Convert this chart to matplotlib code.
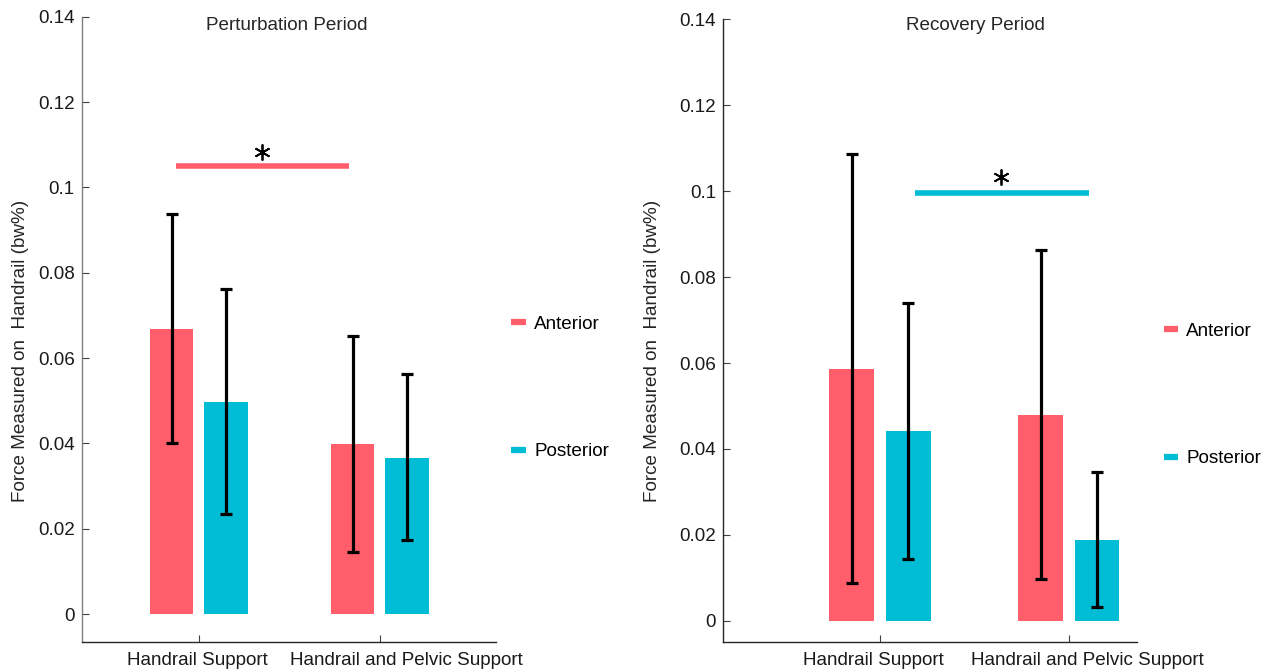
import matplotlib
matplotlib.use("Agg")
import matplotlib.pyplot as plt
import numpy as np
from matplotlib.lines import Line2D
from matplotlib.transforms import blended_transform_factory

plt.rcParams['font.family'] = ['Liberation Sans', 'DejaVu Sans']

groups = ["Handrail Support", "Handrail and Pelvic Support"]
series = ["Anterior", "Posterior"]
colors = ["#FF5E6A", "#00BCD4"]

# Perturbation period
pert_mean = {"Anterior": [0.0668, 0.0398], "Posterior": [0.0496, 0.0367]}
pert_low = {"Anterior": [0.0402, 0.0145], "Posterior": [0.0234, 0.0174]}
pert_high = {"Anterior": [0.0937, 0.0652], "Posterior": [0.0761, 0.0562]}
pert_sig = 0.105

# Recovery period
rec_mean = {"Anterior": [0.0587, 0.0478], "Posterior": [0.0441, 0.0188]}
rec_low = {"Anterior": [0.0089, 0.0098], "Posterior": [0.0144, 0.0032]}
rec_high = {"Anterior": [0.1087, 0.0863], "Posterior": [0.0739, 0.0346]}
rec_sig = 0.0995

yticks = [0, 0.02, 0.04, 0.06, 0.08, 0.1, 0.12, 0.14]
ytick_labels = ["0", "0.02", "0.04", "0.06", "0.08", "0.1", "0.12", "0.14"]

fig = plt.figure(figsize=(12.7, 6.7), dpi=100)

FS = 13.6
TXT = "#1a1a1a"
PX = 0.72  # points per pixel at 100 dpi


def panel(rect, title, title_x, mean, low, high, sig, sig_color, sig_x, star_x,
          star_off, xlim, ylim, off, width, ylab_xy, leg_xy, left_spine_color,
          xlab_shift):
    ax = fig.add_axes(rect)
    x = np.arange(1, len(groups) + 1)
    for i, s in enumerate(series):
        xs = x + (-off if i == 0 else off)
        m = np.array(mean[s])
        ax.bar(xs, m, width=width, color=colors[i], edgecolor='none', zorder=2)
        yerr = np.vstack([m - np.array(low[s]), np.array(high[s]) - m])
        ax.errorbar(xs, m, yerr=yerr, fmt='none', ecolor='black',
                    elinewidth=2.3, capsize=4.3, capthick=2.3, zorder=3)
    ax.plot(sig_x, [sig, sig], color=sig_color, lw=4.0, solid_capstyle='butt', zorder=3)
    ax.plot([star_x], [sig + star_off], marker=(6, 2, 0), markersize=11.5,
            markeredgewidth=1.3, color='black', linestyle='none', zorder=4)
    ax.set_xlim(*xlim)
    ax.set_ylim(*ylim)
    ax.set_xticks(x)
    ax.tick_params(axis='x', labelbottom=False)
    btr = blended_transform_factory(ax.transData, ax.transAxes)
    for xi, lab, dx in zip(x, groups, xlab_shift):
        ax.annotate(lab, xy=(xi, 0), xycoords=btr, xytext=(dx * PX, -7),
                    textcoords='offset points', ha='center', va='top',
                    fontsize=FS, color=TXT, annotation_clip=False)
    ax.set_yticks(yticks)
    ax.set_yticklabels(ytick_labels, fontsize=FS, color=TXT)
    for sp in ['top', 'right']:
        ax.spines[sp].set_visible(False)
    ax.spines['left'].set_color(left_spine_color)
    ax.spines['bottom'].set_color('#262626')
    ax.spines['left'].set_linewidth(1.0)
    ax.spines['bottom'].set_linewidth(1.0)
    ax.spines['left'].set_bounds(ylim[0], 0.14)
    ax.tick_params(axis='both', direction='in', length=5, width=0.8,
                   color='#404040')
    ax.tick_params(axis='y', pad=5)
    ax.set_ylabel("Force Measured on  Handrail (bw%)", fontsize=FS, color='#262626')
    ax.yaxis.set_label_coords(*ylab_xy)
    tr = blended_transform_factory(ax.transAxes, fig.transFigure)
    ax.text(title_x, 1 - 25 / 670, title, transform=tr, ha='center', va='center',
            fontsize=FS, color='#262626')
    handles = [Line2D([0], [0], color=c, lw=4.5, solid_capstyle='butt') for c in colors]
    ax.legend(handles, series, loc='center left', bbox_to_anchor=leg_xy,
              frameon=False, fontsize=FS, handlelength=0.75, handletextpad=0.45,
              labelspacing=5.85, borderaxespad=0, borderpad=0)
    ax.patch.set_alpha(0)
    return ax


panel([0.0643, 0.0413, 0.3263, 0.9338], "Perturbation Period", 0.494,
      pert_mean, pert_low, pert_high, pert_sig, colors[0], [0.871, 1.828], 1.348,
      0.0033, (0.352, 2.643), (-0.0066, 0.14), 0.15, 0.24, (-0.127, 0.466),
      (1.037, 0.4065), '#7f7f7f', (-1.5, 26.5))

panel([0.5693, 0.0413, 0.326, 0.930], "Recovery Period", 0.61,
      rec_mean, rec_low, rec_high, rec_sig, colors[1], [1.186, 2.104], 1.641,
      0.0037, (0.168, 2.361), (-0.0050, 0.14), 0.149, 0.238, (-0.150, 0.468),
      (1.064, 0.397), '#262626', (-7, 18))

fig.savefig("out.png", dpi=100)
